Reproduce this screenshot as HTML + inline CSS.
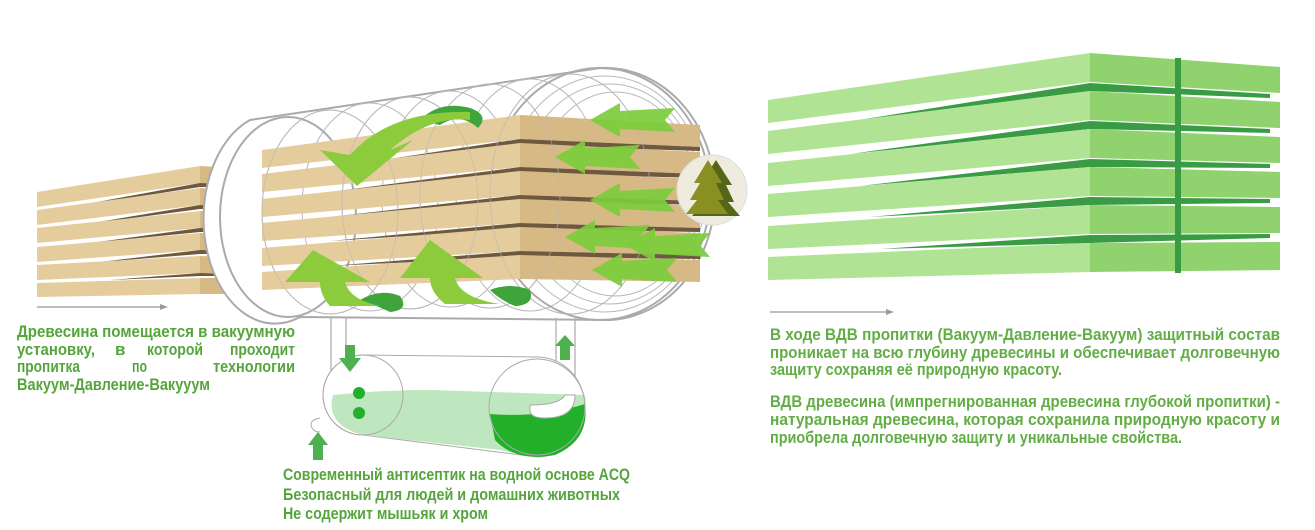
<!DOCTYPE html>
<html><head><meta charset="utf-8"><style>
html,body{margin:0;padding:0;background:#fff;}
svg{display:block;}
.t{font-family:"Liberation Sans Narrow","Liberation Sans",sans-serif;font-weight:bold;fill:#55a53c;font-size:17px;}
.b{fill:#e4cc9c;}.bf{fill:#d6b985;}.g{fill:#6e5840;}
.rb{fill:#b0e394;}.rf{fill:#8fd26e;}.rg{fill:#3a9b45;}
.ring{fill:none;stroke:#b8b8b8;stroke-width:1;}
</style></head><body>
<svg width="1315" height="530" viewBox="0 0 1315 530" xmlns="http://www.w3.org/2000/svg">
<defs>
<g id="la"><polygon points="0,0 30,-17 30,-9 85,-12 75,0 85,12 30,9 30,17" fill="#7ccc3c" opacity="0.92"/></g>
</defs>

<g>
<polygon class="b" points="37,192 200,166 200,183 37,207"/><polygon class="bf" points="200,166 232,168 232,184 200,183"/>
<polygon class="g" points="70,207 200,183 232,184 232,187 200,187"/>
<polygon class="b" points="37,210 200,188 200,205 37,225"/><polygon class="bf" points="200,188 232,190 232,206 200,205"/>
<polygon class="g" points="80,225 200,205 232,206 232,209 200,209"/>
<polygon class="b" points="37,228 200,211 200,228 37,243"/><polygon class="bf" points="200,211 232,212 232,229 200,228"/>
<polygon class="g" points="90,243 200,228 232,229 232,232 200,232"/>
<polygon class="b" points="37,247 200,233 200,250 37,262"/><polygon class="bf" points="200,233 232,234 232,251 200,250"/>
<polygon class="g" points="100,262 200,250 232,251 232,254 200,254"/>
<polygon class="b" points="37,265 200,256 200,273 37,280"/><polygon class="bf" points="200,256 232,257 232,274 200,273"/>
<polygon class="g" points="110,280 200,273 232,274 232,276 200,276"/>
<polygon class="b" points="37,283 200,278 200,294 37,297"/><polygon class="bf" points="200,278 232,278 232,294 200,294"/>
</g>
<line x1="37" y1="307" x2="164" y2="307" stroke="#999" stroke-width="1.2"/>
<polygon points="160,304 168,307 160,310" fill="#999"/>

<path d="M250,120 L600,68 A110,126 0 0 1 610,320 L300,317 A68,100 0 0 1 250,120 Z" fill="#fff" stroke="#aaa" stroke-width="2"/>
<g class="ring">
<ellipse cx="288" cy="217" rx="68" ry="100" stroke-width="2" stroke="#aaa"/>
<ellipse cx="330" cy="212" rx="68" ry="102"/>
<ellipse cx="370" cy="207" rx="68" ry="104"/>
<ellipse cx="410" cy="203" rx="68" ry="106"/>
<ellipse cx="450" cy="199" rx="68" ry="108"/>
<ellipse cx="490" cy="196" rx="70" ry="112"/>
<ellipse cx="530" cy="195" rx="74" ry="116"/>
<ellipse cx="570" cy="194" rx="80" ry="120"/>
<ellipse cx="600" cy="194" rx="110" ry="126" stroke="#aaa" stroke-width="2"/>
<ellipse cx="605" cy="194" rx="100" ry="118"/>
<ellipse cx="610" cy="194" rx="90" ry="110"/>
<ellipse cx="615" cy="194" rx="80" ry="102"/>
</g>

<g>
<polygon class="b" points="262,150 520,115 520,139 262,168"/><polygon class="bf" points="520,115 700,125 700,147 520,139"/>
<polygon class="g" points="330,168 520,139 700,147 700,151 520,145"/>
<polygon class="b" points="262,174 520,143 520,167 262,192"/><polygon class="bf" points="520,143 700,152 700,174 520,167"/>
<polygon class="g" points="330,192 520,167 700,174 700,178 520,173"/>
<polygon class="b" points="262,199 520,171 520,195 262,217"/><polygon class="bf" points="520,171 700,179 700,201 520,195"/>
<polygon class="g" points="330,217 520,195 700,201 700,205 520,201"/>
<polygon class="b" points="262,223 520,199 520,223 262,241"/><polygon class="bf" points="520,199 700,206 700,228 520,223"/>
<polygon class="g" points="330,241 520,223 700,228 700,232 520,229"/>
<polygon class="b" points="262,248 520,227 520,251 262,266"/><polygon class="bf" points="520,227 700,233 700,255 520,251"/>
<polygon class="g" points="330,266 520,251 700,255 700,259 520,257"/>
<polygon class="b" points="262,272 520,255 520,279 262,290"/><polygon class="bf" points="520,255 700,260 700,282 520,279"/>
</g>
<g class="ring" opacity="0.6">
<ellipse cx="330" cy="212" rx="68" ry="102"/><ellipse cx="410" cy="203" rx="68" ry="106"/><ellipse cx="490" cy="196" rx="70" ry="112"/><ellipse cx="570" cy="194" rx="80" ry="120"/>
</g>

<path d="M420,120 Q440,100 470,108 Q490,115 478,128 Q460,112 440,125 Z" fill="#3fa53a"/>
<path d="M470,120 Q430,115 390,150 L413,140 L357,186 L320,150 L350,155 Q390,110 470,112 Z" fill="#8ccc3c"/>
<path d="M360,300 Q380,288 400,296 Q410,310 390,312 Q375,305 360,300 Z" fill="#3fa53a"/>
<path d="M490,290 Q510,282 530,290 Q535,305 515,306 Q500,300 490,290 Z" fill="#3fa53a"/>
<path d="M285,282 L313,250 L370,282 L345,282 Q350,300 380,306 L330,306 Q320,295 320,282 Z" fill="#8ccc3c"/>
<path d="M400,278 L430,240 L483,278 L455,278 Q460,298 500,304 L445,304 Q430,292 430,278 Z" fill="#8ccc3c"/>

<use href="#la" x="590" y="120"/>
<use href="#la" x="555" y="157"/>
<use href="#la" x="590" y="200"/>
<use href="#la" x="565" y="237"/>
<use href="#la" x="625" y="245"/>
<use href="#la" x="592" y="270"/>

<circle cx="712" cy="190" r="35" fill="#efebdf" stroke="#ddd"/>
<polygon points="716,160 700,185 706,185 696,202 704,202 692,216 740,216 728,202 734,202 726,185 732,185" fill="#54661a"/>
<polygon points="708,160 694,183 700,183 690,200 697,200 686,214 728,214 718,200 724,200 716,183 722,183" fill="#8a8f22"/>

<path d="M331,318 L331,380 M346,318 L346,365 Q346,370 352,370 L366,370" fill="none" stroke="#aaa" stroke-width="1.2"/>
<path d="M556,318 L556,398 M575,318 L575,402" fill="none" stroke="#aaa" stroke-width="1.2"/>
<path d="M363,355 L537,357 A48,50 0 0 1 537,457 L363,435 A40,40 0 0 1 363,355 Z" fill="#fff" stroke="#aaa"/>
<path d="M333,395 Q380,390 430,390 L585,395 Q590,420 560,450 Q540,460 500,450 L363,435 Q325,425 333,395 Z" fill="#bfe7bf"/>
<path d="M490,414 Q540,418 585,404 Q590,440 555,455 Q515,462 495,440 Z" fill="#22b02a"/>
<path d="M530,405 Q560,405 565,395 L575,395 Q575,418 545,418 Q530,418 530,410 Z" fill="#fff" stroke="#aaa"/>
<circle cx="363" cy="395" r="40" fill="none" stroke="#aaa"/>
<circle cx="537" cy="407" r="48" fill="none" stroke="#aaa"/>
<circle cx="359" cy="393" r="6" fill="#22b02a"/>
<circle cx="359" cy="413" r="6" fill="#22b02a"/>
<polygon points="345,345 345,358 339,358 350,372 361,358 355,358 355,345" fill="#4fb04f"/>
<polygon points="560,360 560,346 555,346 565,335 575,346 570,346 570,360" fill="#4fb04f"/>
<polygon points="313,460 313,445 308,445 318,432 328,445 323,445 323,460" fill="#4fb04f"/>
<path d="M320,418 Q308,420 312,428 Q314,432 320,432" fill="none" stroke="#aaa"/>

<g>
<polygon class="rb" points="768,100 1090,53 1090,82 768,123"/><polygon class="rf" points="1090,53 1280,67 1280,93 1090,82"/>
<polygon class="rg" points="840,123 1090,83 1270,94 1270,98 1090,91"/>
<polygon class="rb" points="768,131 1090,91 1090,120 768,154"/><polygon class="rf" points="1090,91 1280,102 1280,128 1090,120"/>
<polygon class="rg" points="850,154 1090,121 1270,129 1270,133 1090,129"/>
<polygon class="rb" points="768,163 1090,129 1090,158 768,186"/><polygon class="rf" points="1090,129 1280,137 1280,163 1090,158"/>
<polygon class="rg" points="860,186 1090,159 1270,164 1270,168 1090,167"/>
<polygon class="rb" points="768,194 1090,167 1090,196 768,217"/><polygon class="rf" points="1090,167 1280,172 1280,198 1090,196"/>
<polygon class="rg" points="870,217 1090,197 1270,199 1270,203 1090,205"/>
<polygon class="rb" points="768,226 1090,205 1090,234 768,249"/><polygon class="rf" points="1090,205 1280,207 1280,233 1090,234"/>
<polygon class="rg" points="880,249 1090,235 1270,234 1270,238 1090,243"/>
<polygon class="rb" points="768,257 1090,243 1090,272 768,280"/><polygon class="rf" points="1090,243 1280,242 1280,270 1090,272"/>
<rect x="1175" y="58" width="6" height="215" class="rg"/>
</g>
<line x1="770" y1="312" x2="890" y2="312" stroke="#999" stroke-width="1.2"/>
<polygon points="886,309 894,312 886,315" fill="#999"/>

<text class="t" x="17" y="337" textLength="278" lengthAdjust="spacingAndGlyphs">Древесина помещается в вакуумную</text>
<text class="t" y="355"><tspan x="17" textLength="78" lengthAdjust="spacingAndGlyphs">установку,</tspan><tspan x="115">в</tspan><tspan x="147" textLength="56" lengthAdjust="spacingAndGlyphs">которой</tspan><tspan x="230" textLength="65" lengthAdjust="spacingAndGlyphs">проходит</tspan></text>
<text class="t" y="372"><tspan x="17" textLength="63" lengthAdjust="spacingAndGlyphs">пропитка</tspan><tspan x="132" textLength="15" lengthAdjust="spacingAndGlyphs">по</tspan><tspan x="213" textLength="82" lengthAdjust="spacingAndGlyphs">технологии</tspan></text>
<text class="t" x="17" y="390" textLength="193" lengthAdjust="spacingAndGlyphs">Вакуум-Давление-Вакууум</text>

<text class="t" x="283" y="480" textLength="347" lengthAdjust="spacingAndGlyphs">Современный антисептик на водной основе ACQ</text>
<text class="t" x="283" y="500" textLength="337" lengthAdjust="spacingAndGlyphs">Безопасный для людей и домашних животных</text>
<text class="t" x="283" y="519" textLength="205" lengthAdjust="spacingAndGlyphs">Не содержит мышьяк и хром</text>

<text class="t" style="fill:#62ad46" x="770" y="340" textLength="510" lengthAdjust="spacingAndGlyphs">В ходе ВДВ пропитки (Вакуум-Давление-Вакуум) защитный состав</text>
<text class="t" style="fill:#62ad46" x="770" y="358" textLength="510" lengthAdjust="spacingAndGlyphs">проникает на всю глубину древесины и обеспечивает долговечную</text>
<text class="t" style="fill:#62ad46" x="770" y="375" textLength="292" lengthAdjust="spacingAndGlyphs">защиту сохраняя её природную красоту.</text>
<text class="t" style="fill:#62ad46" x="770" y="407" textLength="510" lengthAdjust="spacingAndGlyphs">ВДВ древесина (импрегнированная древесина глубокой пропитки) -</text>
<text class="t" style="fill:#62ad46" x="770" y="425" textLength="510" lengthAdjust="spacingAndGlyphs">натуральная древесина, которая сохранила природную красоту и</text>
<text class="t" style="fill:#62ad46" x="770" y="443" textLength="412" lengthAdjust="spacingAndGlyphs">приобрела долговечную защиту и уникальные свойства.</text>
</svg>
</body></html>
